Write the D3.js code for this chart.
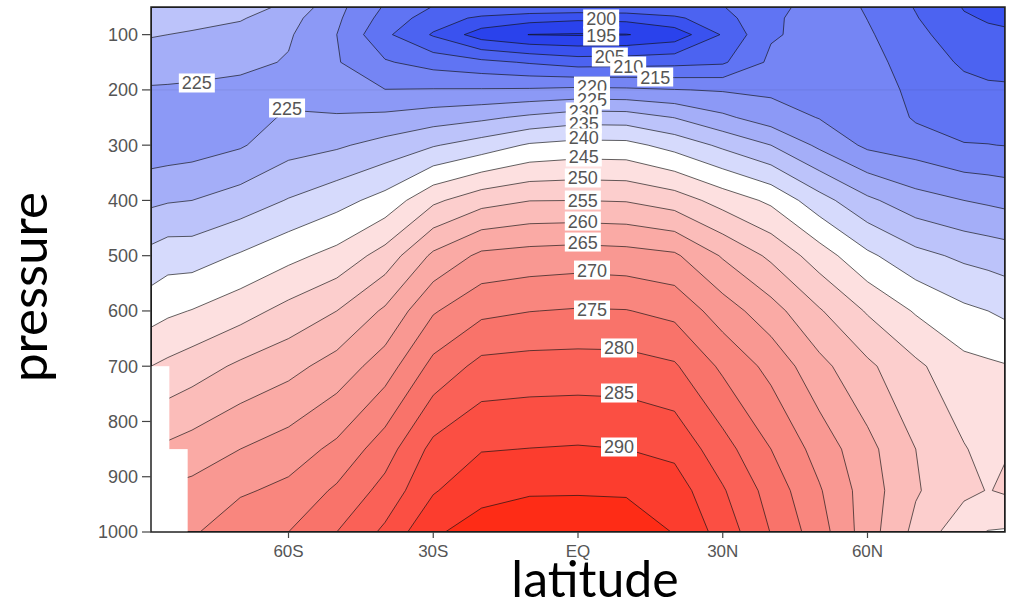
<!DOCTYPE html>
<html>
<head>
<meta charset="utf-8">
<script src="https://cdn.jsdelivr.net/npm/d3@7"></script>
<style>
  body { margin: 0; background: #fff; }
  svg { display: block; }
</style>
</head>
<body>
<svg id="chart" width="1012" height="604"></svg>
<script>
// Grid: latitude columns (degrees, S negative) and pressure rows (hPa)
const lats = [-88.5, -85, -80, -70, -60, -50, -40, -30, -20, -10, 0, 10, 20, 30, 40, 50, 60, 70, 80, 85, 88.5];
const levels = [50, 70, 100, 150, 200, 250, 300, 400, 500, 600, 700, 850, 925, 1000];

// Zonal-mean temperature (K) on each pressure level, columns follow `lats`
const temp50   = [233.0, 232.8, 232.5, 232.0, 229.0, 221.5, 214.5, 209.8, 209.5, 209.3, 209.2, 209.3, 209.5, 209.9, 212.0, 219.0, 214.3, 209.7, 204.7, 203.5, 202.5];
const temp70   = [231.8, 231.5, 231.2, 230.5, 226.8, 220.9, 213.2, 207.5, 204.0, 202.0, 201.0, 201.5, 204.0, 208.5, 213.5, 218.9, 214.9, 210.3, 205.5, 204.6, 204.2];
const temp100  = [230.3, 230.0, 229.6, 228.0, 225.6, 220.0, 211.0, 204.5, 197.5, 194.9, 194.6, 194.8, 197.0, 205.5, 214.5, 216.5, 215.6, 211.6, 206.6, 205.9, 205.7];
const temp150  = [227.6, 227.4, 227.0, 226.3, 224.6, 220.4, 215.5, 213.0, 211.3, 209.5, 207.7, 208.0, 208.5, 209.3, 216.0, 218.0, 217.0, 212.3, 209.4, 208.5, 208.3];
const temp200  = [224.5, 224.4, 224.2, 223.5, 222.8, 222.0, 220.1, 220.3, 220.4, 220.6, 221.2, 220.9, 220.2, 219.6, 219.0, 218.5, 218.3, 213.4, 211.2, 210.8, 210.7];
const temp250  = [222.8, 222.8, 223.0, 222.5, 225.8, 225.5, 226.2, 227.7, 229.0, 231.0, 232.7, 232.5, 229.9, 226.0, 222.5, 219.8, 219.0, 214.4, 213.2, 213.0, 212.8];
const temp300  = [222.0, 222.3, 222.8, 224.5, 228.0, 229.3, 231.7, 234.6, 237.3, 240.6, 241.7, 241.5, 238.2, 234.0, 230.0, 224.0, 219.0, 217.5, 215.2, 215.1, 214.9];
const temp400  = [229.0, 229.6, 230.0, 232.2, 235.3, 238.2, 241.8, 249.0, 253.1, 254.9, 255.0, 254.7, 252.6, 248.0, 244.0, 237.0, 231.0, 227.0, 225.0, 224.2, 223.6];
const temp500  = [236.5, 237.8, 237.7, 240.5, 243.6, 246.6, 252.0, 261.0, 266.1, 267.0, 267.5, 267.0, 265.8, 259.5, 254.0, 247.5, 241.0, 236.5, 234.0, 233.2, 232.6];
const temp600  = [242.9, 244.1, 245.2, 248.0, 251.6, 255.0, 260.8, 269.5, 273.8, 274.9, 275.4, 275.2, 273.6, 267.5, 262.0, 255.5, 249.5, 244.5, 241.0, 240.0, 239.0];
const temp700  = [250.0, 251.1, 252.6, 255.9, 258.4, 262.0, 267.5, 276.5, 281.5, 282.0, 282.1, 282.0, 280.6, 274.0, 268.5, 261.5, 256.0, 251.0, 246.5, 245.8, 245.3];
const temp850  = [258.0, 261.0, 262.2, 265.0, 267.4, 271.2, 277.7, 286.5, 289.7, 290.1, 290.4, 290.0, 288.7, 282.0, 275.0, 268.0, 261.5, 255.0, 250.3, 248.5, 249.7];
const temp925  = [262.0, 265.8, 266.5, 269.3, 271.3, 275.8, 281.7, 289.5, 293.9, 294.6, 294.6, 294.5, 292.5, 285.5, 278.0, 270.5, 262.5, 255.5, 251.2, 249.8, 250.6];
const temp1000 = [265.0, 269.0, 269.3, 273.5, 275.0, 280.0, 286.0, 294.5, 296.5, 297.5, 298.0, 297.5, 294.8, 288.0, 279.8, 272.3, 262.3, 253.6, 246.5, 244.8, 244.5];

// Contour levels (K)
const contourLevels = [195, 200, 205, 210, 215, 220, 225, 230, 235, 240, 245, 250, 255, 260, 265, 270, 275, 280, 285, 290, 295];

// Below-ground (no data) blocks over Antarctica: poleward of lat, below pressure
const noDataLat = [-84.7, -80.9];
const noDataFrom = [700, 850];

// Axis ticks
const pressureTicks = [100, 200, 300, 400, 500, 600, 700, 800, 900, 1000];
const latTicks = [-60, -30, 0, 30, 60];
const latTickLabels = ["60S", "30S", "EQ", "30N", "60N"];

// In-line contour labels: level, latitude, pressure
const labelLevel = [200, 195, 205, 210, 215, 220, 225, 230, 235, 240, 245, 250, 255, 260, 265, 270, 275, 280, 285, 290, 225, 225];
const labelLat   = [4.8, 4.8, 6.6, 10.4, 16.0, 2.9, 2.9, 1.2, 1.2, 1.2, 1.2, 1.0, 1.0, 1.0, 1.0, 2.9, 2.9, 8.5, 8.5, 8.5, -79.0, -60.3];
const labelP     = [71.7, 102.5, 140.5, 156.8, 176.7, 193, 218.3, 240, 261.7, 287, 321.4, 359.4, 399.3, 437.3, 475.3, 526, 598.3, 667, 748.5, 846.2, 187.5, 232.8];

// Shading: one colour below the first level, then one per interval
const bandColors = [
  "#1b33e6", "#2a42ec", "#3a52ef", "#4c63f1", "#6074f3", "#7585f4", "#8c99f6", "#a4aef8", "#bcc3fa", "#d6dafc",
  "#ffffff",
  "#fde0e0", "#fccecd", "#fbbcb9", "#faaaa5", "#f99892", "#f9867e", "#f9736a", "#fa6157", "#fb4f43", "#fc3d2e", "#fe2c16"
];

const rows = [temp50, temp70, temp100, temp150, temp200, temp250, temp300, temp400, temp500, temp600, temp700, temp850, temp925, temp1000];
const n = lats.length, m = levels.length;
const values = rows.flat();

const svg = d3.select("#chart");
const x = d3.scaleLinear().domain(d3.extent(lats)).range([151, 1005]);
const y = d3.scaleLinear().domain([50, 1000]).range([7, 532]);
const [x0, x1] = x.range(), [y0, y1] = y.range();

// grid coordinate (cell centres at i + 0.5) -> data coordinate
function along(arr, g) {
  const f = Math.max(0, Math.min(arr.length - 1, g - 0.5));
  const i = Math.min(arr.length - 2, Math.floor(f));
  return arr[i] + (arr[i + 1] - arr[i]) * (f - i);
}
const toScreen = d3.geoTransform({
  point(gx, gy) { this.stream.point(x(along(lats, gx)), y(along(levels, gy))); }
});
const path = d3.geoPath(toScreen);
const bands = d3.contours().size([n, m]).thresholds(contourLevels)(values);

svg.append("defs").append("clipPath").attr("id", "plot-clip")
  .append("rect").attr("x", x0).attr("y", y0).attr("width", x1 - x0).attr("height", y1 - y0);

const plot = svg.append("g").attr("clip-path", "url(#plot-clip)");

// shaded intervals
plot.append("rect").attr("x", x0).attr("y", y0).attr("width", x1 - x0).attr("height", y1 - y0)
  .attr("fill", bandColors[0]);
plot.append("g").selectAll("path").data(bands).join("path")
  .attr("d", path)
  .attr("fill", (d, i) => bandColors[i + 1]);

// faint 200 hPa guide
plot.append("line").attr("x1", x0).attr("x2", x1).attr("y1", y(200)).attr("y2", y(200))
  .attr("stroke", "#000").attr("stroke-opacity", 0.07);

// contour lines
plot.append("g").selectAll("path").data(bands).join("path")
  .attr("d", path)
  .attr("fill", "none")
  .attr("stroke", "#111")
  .attr("stroke-opacity", 0.65)
  .attr("stroke-width", 1);

// no-data blocks
plot.append("g").selectAll("rect").data(noDataLat).join("rect")
  .attr("x", x0)
  .attr("y", (d, i) => y(noDataFrom[i]))
  .attr("width", d => x(d) - x0)
  .attr("height", (d, i) => y1 - y(noDataFrom[i]))
  .attr("fill", "#fff");

// contour labels
const labelFont = "Liberation Sans, Arial, sans-serif";
const lab = plot.append("g").selectAll("g").data(labelLevel).join("g")
  .attr("transform", (d, i) => `translate(${x(labelLat[i])},${y(labelP[i])})`);
lab.append("rect").attr("x", -18).attr("y", -9.5).attr("width", 36).attr("height", 19).attr("fill", "#fff");
lab.append("text")
  .attr("text-anchor", "middle").attr("dy", "0.36em")
  .attr("font-family", labelFont).attr("font-size", 18).attr("fill", "#555")
  .text(d => d);

// frame
svg.append("rect").attr("x", x0).attr("y", y0).attr("width", x1 - x0).attr("height", y1 - y0)
  .attr("fill", "none").attr("stroke", "#222").attr("stroke-width", 1.5);

// pressure axis
const yAxis = svg.append("g");
yAxis.selectAll("line").data(pressureTicks).join("line")
  .attr("x1", x0 - 9).attr("x2", x0).attr("y1", d => y(d)).attr("y2", d => y(d))
  .attr("stroke", "#444").attr("stroke-width", 1.2);
yAxis.selectAll("text").data(pressureTicks).join("text")
  .attr("x", x0 - 13).attr("y", d => y(d)).attr("dy", "0.36em")
  .attr("text-anchor", "end")
  .attr("font-family", labelFont).attr("font-size", 18).attr("fill", "#555")
  .text(d => d);

// latitude axis
const xAxis = svg.append("g");
xAxis.selectAll("line").data(latTicks).join("line")
  .attr("x1", d => x(d)).attr("x2", d => x(d)).attr("y1", y1).attr("y2", y1 + 6)
  .attr("stroke", "#444").attr("stroke-width", 1.2);
xAxis.selectAll("text").data(latTicks).join("text")
  .attr("x", d => x(d)).attr("y", y1 + 19).attr("dy", "0.36em")
  .attr("text-anchor", "middle")
  .attr("font-family", labelFont).attr("font-size", 17).attr("fill", "#555")
  .text((d, i) => latTickLabels[i]);

// axis titles
svg.append("text")
  .attr("x", 595).attr("y", 597)
  .attr("text-anchor", "middle")
  .attr("font-family", "Lato, sans-serif").attr("font-size", 50).attr("fill", "#000")
  .text("latitude");
svg.append("text")
  .attr("transform", "translate(47,287) rotate(-90)")
  .attr("text-anchor", "middle")
  .attr("font-family", "Lato, sans-serif").attr("font-size", 51).attr("fill", "#000")
  .text("pressure");
</script>
</body>
</html>
